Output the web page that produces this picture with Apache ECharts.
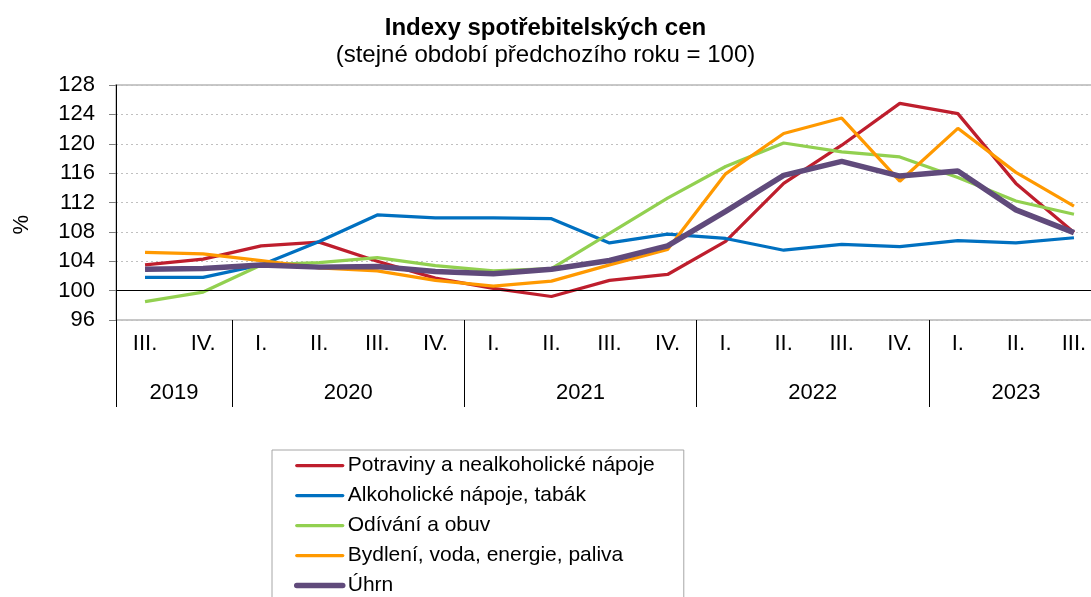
<!DOCTYPE html>
<html>
<head>
<meta charset="utf-8">
<title>Indexy spotřebitelských cen</title>
<script src="https://cdn.jsdelivr.net/npm/echarts@6/dist/echarts.min.js"></script>
<style>
    html, body { margin: 0; padding: 0; background: #fff; }
    #graph1 { width: 1091px; height: 597px; }
</style>
</head>
<body>
<div id="graph1"></div>
<script>
// data
var quarters = ['III.', 'IV.', 'I.', 'II.', 'III.', 'IV.', 'I.', 'II.', 'III.', 'IV.', 'I.', 'II.', 'III.', 'IV.', 'I.', 'II.', 'III.'];
var years = ['2019', '2020', '2021', '2022', '2023'];
var yearQuarters = [2, 4, 4, 4, 3];          // pocet ctvrtleti v roce
var yTicks = [96, 100, 104, 108, 112, 116, 120, 124, 128];

var names = ['Potraviny a nealkoholické nápoje', 'Alkoholické nápoje, tabák', 'Odívání a obuv', 'Bydlení, voda, energie, paliva', 'Úhrn'];
var potraviny = [103.5, 104.3, 106.1, 106.6, 104.0, 101.7, 100.3, 99.2, 101.4, 102.2, 106.7, 114.6, 119.8, 125.5, 124.1, 114.6, 107.9];
var alkohol = [101.8, 101.8, 103.5, 106.7, 110.3, 109.9, 109.9, 109.8, 106.5, 107.7, 107.1, 105.5, 106.3, 106.0, 106.8, 106.5, 107.2];
var odivani = [98.5, 99.8, 103.5, 103.8, 104.5, 103.4, 102.7, 103.0, 107.8, 112.6, 116.9, 120.1, 118.9, 118.2, 115.4, 112.2, 110.4];
var bydleni = [105.2, 105.0, 104.1, 103.1, 102.7, 101.4, 100.6, 101.3, 103.5, 105.6, 115.9, 121.4, 123.5, 114.9, 122.1, 116.1, 111.5];
var uhrn = [102.9, 103.0, 103.5, 103.2, 103.3, 102.6, 102.3, 102.9, 104.1, 106.1, 110.8, 115.7, 117.6, 115.6, 116.3, 111.0, 107.9];

var colors = ['#BE1E2D', '#0070C0', '#92D050', '#FF9900', '#604A7B'];
var widths = [3.25, 3.25, 3.25, 3.25, 5.5];
var font = 'Arial, "Liberation Sans", sans-serif';

// hranice a stredy roku na pomocne ose (0..17)
var yearBounds = [0];
var yearCenters = [];
var acc = 0;
for (var i = 0; i < yearQuarters.length; i++) {
    yearCenters.push(acc + yearQuarters[i] / 2);
    acc += yearQuarters[i];
    if (i < yearQuarters.length - 1) yearBounds.push(acc);
}

function makeLine(idx, data) {
    return {
        name: names[idx],
        type: 'line',
        data: data,
        symbol: 'none',
        color: colors[idx],
        lineStyle: { width: widths[idx], color: colors[idx] }
    };
}

var legendData = [];
for (var j = 0; j < names.length; j++) {
    legendData.push({
        name: names[j],
        itemStyle: { opacity: 0 },
        lineStyle: { width: widths[j], color: colors[j], cap: 'round' }
    });
}

var option = {
    animation: false,
    textStyle: { fontFamily: font, color: '#000' },
    title: [
        {
            text: 'Indexy spotřebitelských cen',
            left: 'center',
            top: 9,
            textStyle: { fontSize: 24, fontWeight: 'bold', color: '#000', fontFamily: font, lineHeight: 28 }
        },
        {
            text: '(stejné období předchozího roku = 100)',
            left: 'center',
            top: 36,
            textStyle: { fontSize: 24, fontWeight: 'normal', color: '#000', fontFamily: font, lineHeight: 28 }
        }
    ],
    legend: {
        orient: 'vertical',
        left: 272,
        top: 450,
        height: 200,
        data: legendData,
        itemWidth: 46,
        itemHeight: 14,
        itemGap: 9,
        padding: [5, 29, 10, 22],
        borderColor: '#a6a6a6',
        borderWidth: 1,
        textStyle: { fontSize: 21, color: '#000', fontFamily: font }
    },
    graphic: [
        {
            type: 'text',
            left: 11,
            top: 215,
            rotation: Math.PI / 2,
            style: { text: '%', fontSize: 22, fill: '#000', font: '22px ' + font }
        }
    ],
    grid: {
        left: 116,
        top: 85,
        width: 987,
        height: 235,
        outerBoundsMode: 'none',
        containLabel: false,
        show: true,
        borderColor: '#c8c8c8',
        borderWidth: 2
    },
    xAxis: [
        {
            type: 'category',
            data: quarters,
            boundaryGap: true,
            axisLine: { show: false },
            axisTick: { show: false },
            axisLabel: { fontSize: 22, color: '#000', margin: 13, fontFamily: font }
        },
        {
            type: 'value',
            position: 'bottom',
            min: 0,
            max: quarters.length,
            axisLine: { show: false },
            splitLine: { show: false },
            axisTick: {
                show: true,
                length: 87,
                customValues: yearBounds,
                lineStyle: { color: '#000', width: 1 }
            },
            axisLabel: {
                show: true,
                customValues: yearCenters,
                margin: 62,
                fontSize: 22,
                color: '#000',
                fontFamily: font,
                formatter: function (v) {
                    var k = yearCenters.indexOf(v);
                    return k >= 0 ? years[k] : '';
                }
            }
        }
    ],
    yAxis: {
        type: 'value',
        min: yTicks[0],
        max: yTicks[yTicks.length - 1],
        interval: 4,
        axisLine: { show: true, lineStyle: { color: '#000', width: 1 } },
        axisTick: { show: true, length: 7, lineStyle: { color: '#808080' } },
        axisLabel: { fontSize: 22, color: '#000', margin: 21, fontFamily: font },
        splitLine: { show: true, lineStyle: { color: '#c0c0c0', type: [2, 3], width: 1 } }
    },
    series: [
        {
            // cara na urovni 100
            name: 'base',
            type: 'line',
            data: [],
            z: 1,
            silent: true,
            markLine: {
                silent: true,
                symbol: 'none',
                label: { show: false },
                lineStyle: { color: '#000', width: 1, type: 'solid' },
                data: [{ yAxis: 100 }]
            }
        },
        makeLine(0, potraviny),
        makeLine(1, alkohol),
        makeLine(2, odivani),
        makeLine(3, bydleni),
        makeLine(4, uhrn)
    ]
};

var myChart = echarts.init(document.getElementById('graph1'));
myChart.setOption(option);
</script>
</body>
</html>
